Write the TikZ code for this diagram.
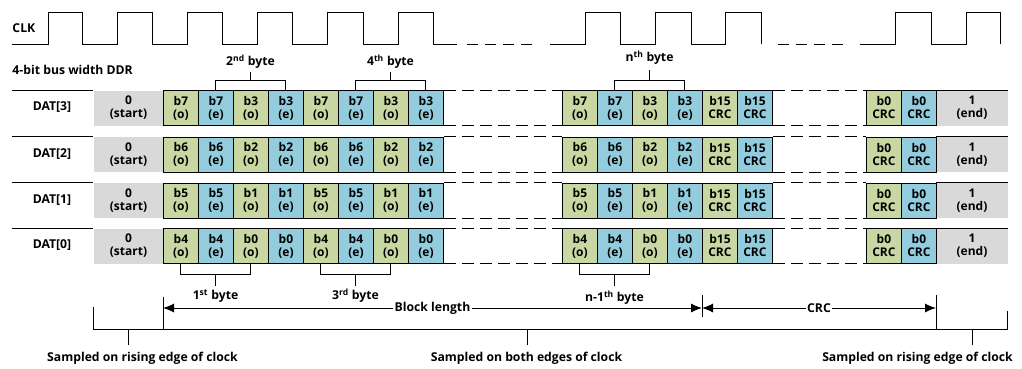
\documentclass[tikz,border=0pt]{standalone}
\usepackage{fontspec}
\setmainfont{Open Sans}
\usetikzlibrary{arrows.meta}
\definecolor{cg}{HTML}{C9D8A2}
\definecolor{cb}{HTML}{93CDDD}
\definecolor{cgr}{HTML}{D9D9D9}
\begin{document}
\begin{tikzpicture}[x=1pt,y=-1pt,
  line width=1pt,
  txt/.style={font=\fontsize{12.2}{13}\selectfont\bfseries, inner sep=0pt},
  cell/.style={draw=black, line width=0.9pt, minimum width=35pt, minimum height=35pt,
    anchor=north west, inner sep=0pt, align=center,
    font=\fontsize{12}{13}\selectfont\bfseries},
  graybox/.style={fill=cgr, minimum width=70pt, minimum height=35pt,
    anchor=north west, inner sep=0pt, align=center,
    font=\fontsize{12}{13}\selectfont\bfseries},
  dsh/.style={dash pattern=on 12pt off 6pt},
  cdsh/.style={dash pattern=on 11pt off 7pt},
  arr/.style={-{Latex[length=11pt,width=9pt]}}]
\useasboundingbox (0,0) rectangle (1022,368);

% clock
\node[txt, anchor=west] (clk) at (12,28) {CLK};
\draw (12,44) -- (48,44) -- (48,12) -- (82,12) -- (82,44) -- (117,44) -- (117,12)
  -- (152,12) -- (152,44) -- (187,44) -- (187,12) -- (222,12) -- (222,44)
  -- (257,44) -- (257,12) -- (292,12) -- (292,44) -- (327,44) -- (327,12)
  -- (363,12) -- (363,44) -- (398,44) -- (398,12) -- (433,12) -- (433,44) -- (457,44);
\draw[cdsh] (467,44) -- (533,44);
\draw (550,44) -- (585,44) -- (585,12) -- (620,12) -- (620,44) -- (655,44)
  -- (655,12) -- (691,12) -- (691,44) -- (725,44) -- (725,12) -- (761,12) -- (761,44);
\draw[cdsh] (778,44) -- (844,44);
\draw (860,44) -- (895,44) -- (895,12) -- (931,12) -- (931,44) -- (966,44)
  -- (966,12) -- (1000,12) -- (1000,44);

\node[txt, anchor=west] (bus) at (12,70) {4-bit bus width DDR};

% rows
\foreach \r/\hi/\lo/\T in {3/7/3/90, 2/6/2/136.5, 1/5/1/182.5, 0/4/0/228} {
  \node[graybox] (s\r) at (93,\T) {0\\(start)};
  \draw (12,\T) -- (s\r.north west);
  \node[txt] (lab\r) at (52,{\T+17.5}) {DAT[\r]};
  \foreach \k/\b/\p/\c in {0/\hi/o/cg, 1/\hi/e/cb, 2/\lo/o/cg, 3/\lo/e/cb,
                           4/\hi/o/cg, 5/\hi/e/cb, 6/\lo/o/cg, 7/\lo/e/cb}
    \node[cell, fill=\c] (a\r-\k) at ({163+35*\k},\T) {b\b\\(\p)};
  \foreach \k/\b/\p/\c in {0/\hi/(o)/cg, 1/\hi/(e)/cb, 2/\lo/(o)/cg, 3/\lo/(e)/cb,
                           4/15/CRC/cg, 5/15/CRC/cb}
    \node[cell, fill=\c] (m\r-\k) at ({562+35*\k},\T) {b\b\\\p};
  \node[cell, fill=cg] (e\r-0) at (866,\T) {b0\\CRC};
  \node[cell, fill=cb] (e\r-1) at (901,\T) {b0\\CRC};
  \node[graybox, minimum width=71pt] (n\r) at (936,\T) {1\\(end)};
  \draw (n\r.north west) -- (n\r.north east);
  \draw[dsh] (a\r-7.north east) -- (m\r-0.north west);
  \draw[dsh] (a\r-7.south east) -- (m\r-0.south west);
  \draw[dsh] (m\r-5.north east) -- (e\r-0.north west);
  \draw[dsh] (m\r-5.south east) -- (e\r-0.south west);
}

% top brackets
\draw (a3-1.north) -- ++(0,-10) -| (a3-3.north);
\node[txt] (b2) at (250.5,62) {2\textsuperscript{nd} byte};
\draw (250.5,80) -- (250.5,72);
\draw (a3-5.north) -- ++(0,-10) -| (a3-7.north);
\node[txt] (b4) at (390.5,62) {4\textsuperscript{th} byte};
\draw (390.5,80) -- (390.5,72);
\draw (m3-1.north) -- ++(0,-10) -| (m3-3.north);
\node[txt] (bn) at (649.5,58) {n\textsuperscript{th} byte};
\draw (649.5,80) -- (649.5,70);

% bottom brackets
\draw (a0-0.south) -- ++(0,11) -| (a0-2.south);
\draw (215.5,274) -- (215.5,286);
\node[txt] (b1) at (215.5,296) {1\textsuperscript{st} byte};
\draw (a0-4.south) -- ++(0,11) -| (a0-6.south);
\draw (355.5,274) -- (355.5,286);
\node[txt] (b3) at (355.5,296) {3\textsuperscript{rd} byte};
\draw (m0-0.south) -- ++(0,11) -| (m0-2.south);
\draw (614.5,274) -- (614.5,286);
\node[txt] (bn1) at (614.5,298) {n-1\textsuperscript{th} byte};

% block length / CRC
\coordinate (bl0) at (163,308);
\coordinate (bl1) at (702,308);
\coordinate (cr1) at (936,308);
\node[txt, fill=white, inner xsep=1pt] (blk) at (432.5,308) {Block length};
\draw[arr] (blk) -- (bl0);
\draw[arr] (blk) -- (bl1);
\node[txt, fill=white, inner xsep=1pt] (crc) at (819,308) {CRC};
\draw[arr] (crc) -- (bl1);
\draw[arr] (crc) -- (cr1);
\draw (163,297) -- (163,329);
\draw (702,295) -- (702,317);
\draw (936,295) -- (936,329);

% sampled brackets
\draw (93,307) -- (93,329) -- (1007,329) -- (1007,311);
\draw (128,329) -- (128,345);
\draw (527,329) -- (527,345);
\draw (972,329) -- (972,345);
\node[txt] (sl) at (142.5,358) {Sampled on rising edge of clock};
\node[txt] (sm) at (526.5,358) {Sampled on both edges of clock};
\node[txt] (sr) at (917.5,358) {Sampled on rising edge of clock};
\end{tikzpicture}
\end{document}
